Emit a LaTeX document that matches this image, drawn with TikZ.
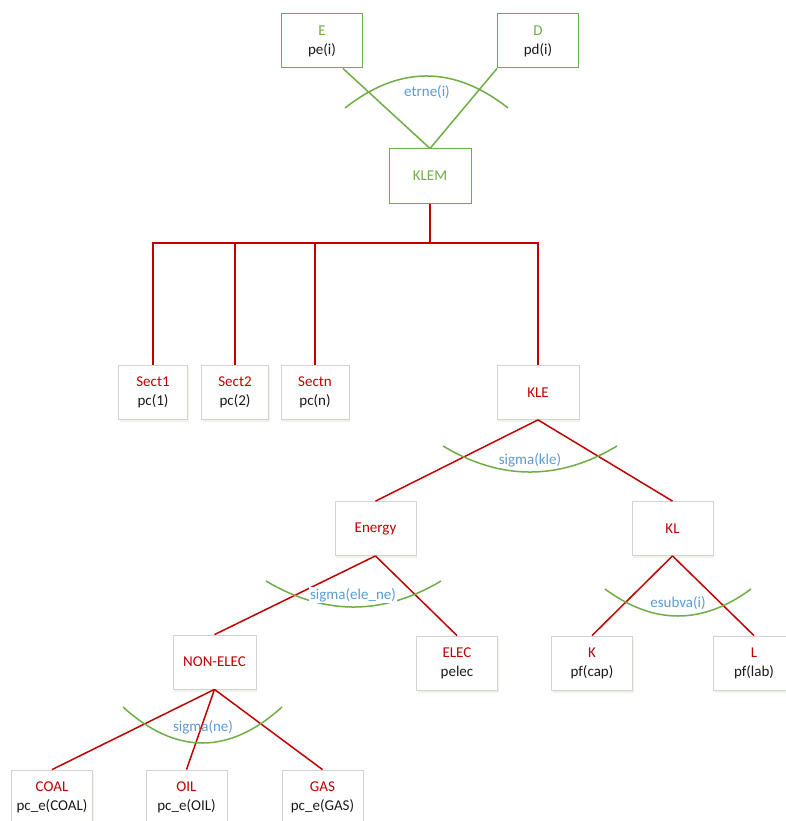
\documentclass[tikz,border=0pt]{standalone}
\usepackage{fontspec}
\setmainfont{Carlito}
\usetikzlibrary{calc,shadows}
\definecolor{gr}{HTML}{70AD47}
\definecolor{rd}{HTML}{C00000}
\definecolor{bl}{HTML}{5B9BD5}
\definecolor{bx}{HTML}{D3D3D3}
\definecolor{tx}{HTML}{1A1A1A}
\begin{document}
\begin{tikzpicture}[x=1pt,y=-1pt,
  font=\fontsize{15}{19}\selectfont,
  box/.style={draw=bx, line width=0.8pt, fill=white, minimum width=81pt, minimum height=54pt,
    align=center, inner sep=0pt, text=tx,
    drop shadow={shadow xshift=1pt, shadow yshift=-2.5pt, fill=gr!35, opacity=0.35}},
  gbox/.style={draw=gr, line width=1pt, fill=white, minimum width=81pt, minimum height=54pt,
    align=center, inner sep=0pt, text=tx},
  rline/.style={draw=rd, line width=1.5pt},
  rbar/.style={draw=rd, line width=2pt},
  gline/.style={draw=gr, line width=1.5pt},
  garc/.style={draw=gr, line width=1.5pt},
  lbl/.style={text=bl, inner sep=1pt}]
\useasboundingbox (0,0) rectangle (785,821);
\fill[white] (0,0) rectangle (785,821);

% top green part
\node[gbox] (E) at (322,41) {\textcolor{gr}{E}\\pe(i)};
\node[gbox] (D) at (538,41) {\textcolor{gr}{D}\\pd(i)};
\node[gbox, minimum width=82pt] (KLEM) at (430,176) {\textcolor{gr}{KLEM}};
\draw[gline] ($(E.south)+(21,0)$) -- (KLEM.north);
\draw[gline] (D.south west) -- (KLEM.north);
\draw[garc] (345,108) .. controls (399.3,65.3) and (453.7,65.3) .. (508,108);
\node[lbl] (letrne) at (427,92) {etrne(i)};

% sector boxes
\node[box, minimum width=69pt] (S1) at (153,392) {\textcolor{rd}{Sect1}\\pc(1)};
\node[box, minimum width=67pt] (S2) at (235,392) {\textcolor{rd}{Sect2}\\pc(2)};
\node[box, minimum width=68pt] (Sn) at (315,392) {\textcolor{rd}{Sectn}\\pc(n)};
\node[box, minimum width=82pt] (KLE) at (538,392.5) {\textcolor{rd}{KLE}};
\coordinate (j) at (430,243);
\draw[rbar] (KLEM.south) -- (j);
\draw[rbar] (S1.north) |- (j);
\draw[rbar] (S2.north) |- (j);
\draw[rbar] (Sn.north) |- (j);
\draw[rbar] (KLE.north) |- (j);

% KLE level
\node[box] (En) at (375.5,528.5) {\textcolor{rd}{Energy}};
\node[box] (KL) at (672.5,528.5) {\textcolor{rd}{KL}};
\draw[rline] (KLE.south) -- (En.north);
\draw[rline] (KLE.south) -- (KL.north);
\draw[garc] (443,446) .. controls (501,480.7) and (559,480.7) .. (617,446);
\node[lbl, fill=white] (lkle) at (530,460) {sigma(kle)};

% Energy level
\node[box, minimum width=83pt] (NE) at (214.5,662) {\textcolor{rd}{NON-ELEC}};
\node[box] (EL) at (457,663) {\textcolor{rd}{ELEC}\\pelec};
\draw[rline] (En.south) -- (NE.north);
\draw[rline] (En.south) -- (EL.north);
\draw[garc] (266,581) .. controls (324.3,615.7) and (382.7,615.7) .. (441,581);
\node[lbl, fill=white] (lele) at (353,595) {sigma(ele\_ne)};

% KL level
\node[box] (K) at (592,663) {\textcolor{rd}{K}\\pf(cap)};
\node[box] (L) at (754,663) {\textcolor{rd}{L}\\pf(lab)};
\draw[rline] (KL.south) -- (K.north);
\draw[rline] (KL.south) -- (L.north);
\draw[garc] (605,589) .. controls (653.7,625) and (702.3,625) .. (751,589);
\node[lbl] (lesub) at (678,603) {esubva(i)};

% NON-ELEC level
\node[box] (CO) at (52,797) {\textcolor{rd}{COAL}\\pc\_e(COAL)};
\node[box] (OI) at (186.5,797) {\textcolor{rd}{OIL}\\pc\_e(OIL)};
\node[box] (GA) at (322.5,797) {\textcolor{rd}{GAS}\\pc\_e(GAS)};
\draw[rline] (NE.south) -- (CO.north);
\draw[rline] (NE.south) -- (OI.north);
\draw[rline] (NE.south) -- (GA.north);
\draw[garc] (123,707) .. controls (176,755) and (229,755) .. (282,707);
\node[lbl] (lne) at (203,727) {sigma(ne)};
\end{tikzpicture}
\end{document}
